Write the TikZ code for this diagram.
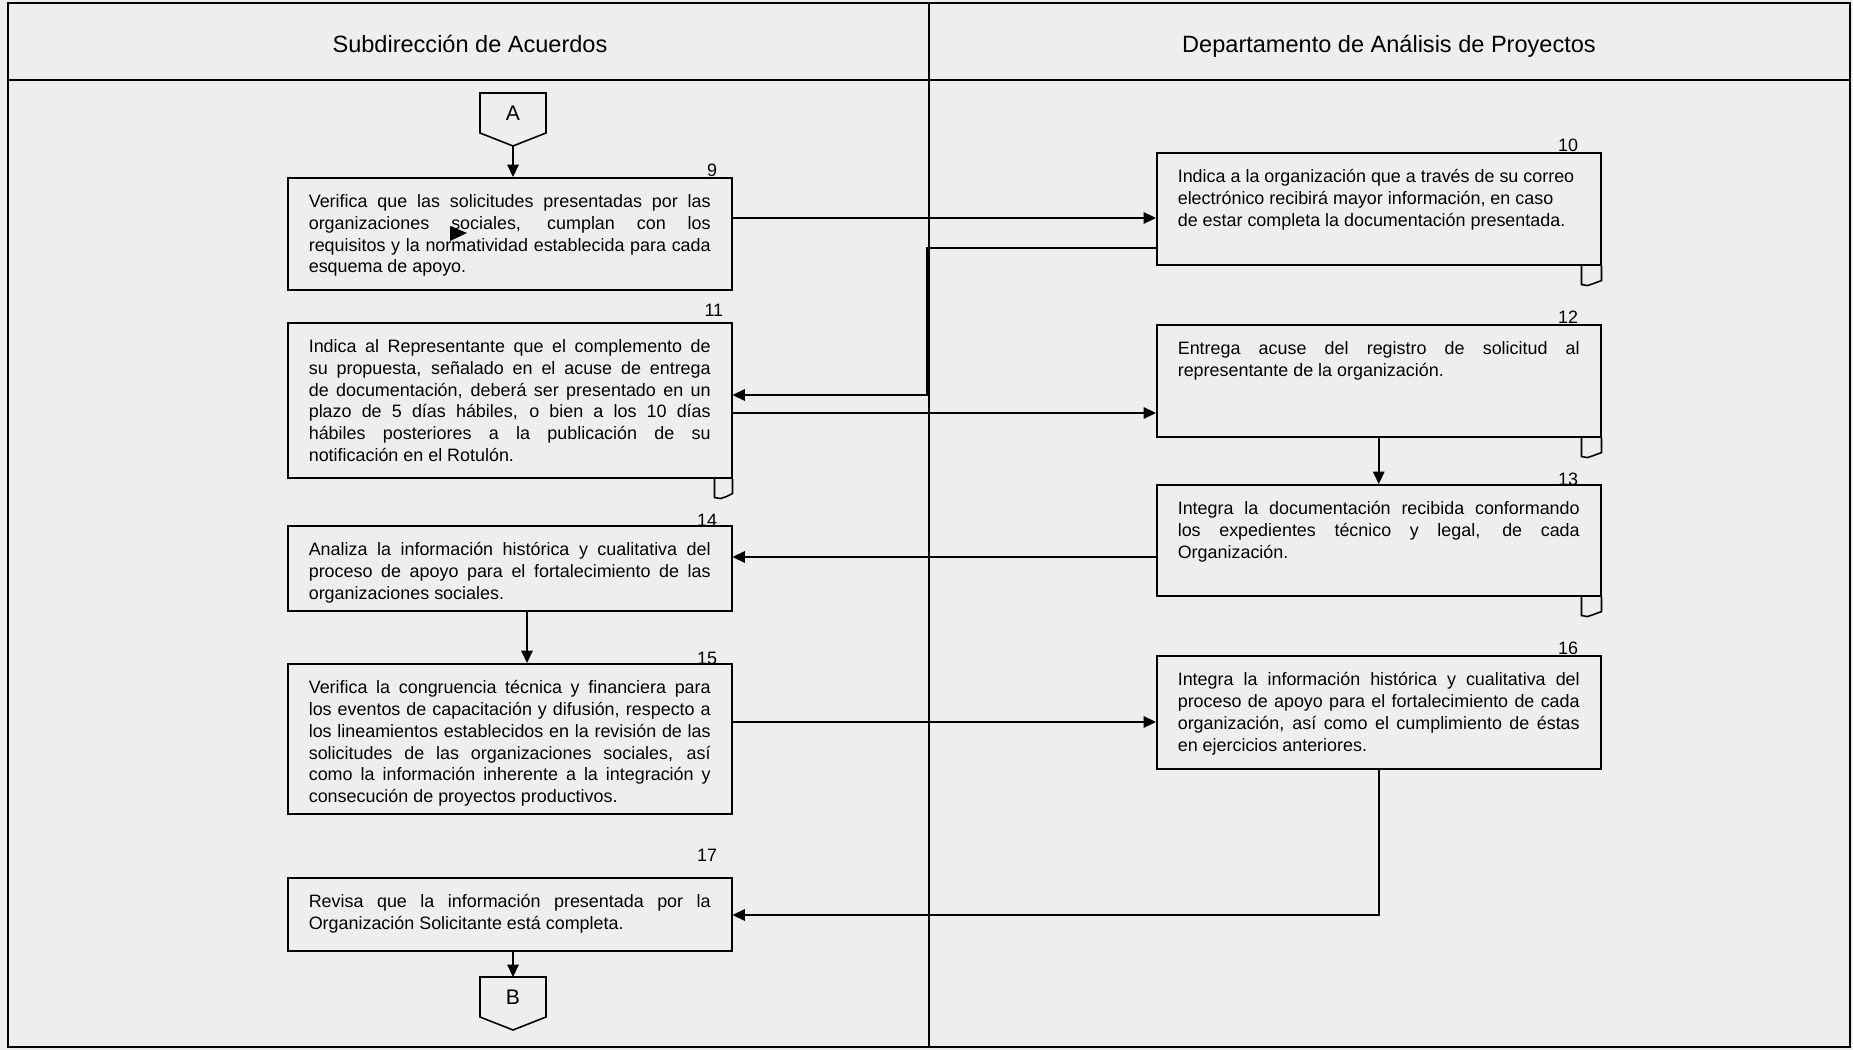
\documentclass[tikz,border=0pt]{standalone}
\usepackage{fontspec}
\setmainfont{Liberation Sans}
\usetikzlibrary{arrows.meta}

\definecolor{paper}{RGB}{238,238,240}
\newcommand{\stepfont}{\fontsize{10.2}{12.35}\selectfont}
\newcommand{\steptext}[2]{\parbox[t][#1][t]{8.04cm}{\vspace*{0.34cm}#2}}

\tikzset{
  stepbox/.style={draw, line width=0.9pt, anchor=north west, inner xsep=0.42cm, inner ysep=0pt, font=\stepfont},
  numlab/.style={anchor=south east, inner sep=0pt, font=\stepfont, xshift=-0.3cm},
  pageconn/.style={minimum width=1.32cm, minimum height=0.8cm, inner sep=0pt, outer sep=0pt, font=\fontsize{12}{14}\selectfont},
  conn/.style={line width=0.9pt, -{Triangle[length=7pt,width=6.5pt]}},
  lanetitle/.style={anchor=base, font=\fontsize{13.4}{15}\selectfont}
}

\begin{document}
\begin{tikzpicture}[x=0.02cm, y=-0.02cm]

\fill[paper] (0,0) rectangle (1853,1050);
\useasboundingbox (0,0) rectangle (1853,1050);

% frame and lanes
\draw[line width=1pt] (8,3) rectangle (1850,1047);
\draw[line width=1pt] (8,80) -- (1850,80);
\draw[line width=0.6pt] (929,3) -- (929,1047);

\node[lanetitle] (lane1) at (470,53) {Subdirección de Acuerdos};
\node[lanetitle] (lane2) at (1389,53) {Departamento de Análisis de Proyectos};

% off-page connectors
\node[pageconn] (A) at (513,113) {A};
\node[pageconn] (B) at (513,997) {B};
\foreach \c in {A,B}
\draw[line width=0.9pt] (\c.north west) -- (\c.north east) -- (\c.south east)
  -- ([yshift=-0.26cm]\c.south) -- (\c.south west) -- cycle;

% Subdireccion de Acuerdos
\node[stepbox, label={[numlab]north east:9}] (b9) at (287,177) {\steptext{2.24cm}{Verifica que las solicitudes presentadas por las\linebreak organizaciones sociales, cumplan con los\linebreak requisitos y la normatividad establecida para cada\linebreak esquema de apoyo.}};

\node[stepbox, label={[numlab, xshift=0.12cm, yshift=0.1cm]north east:11}] (b11) at (287,322) {\steptext{3.10cm}{Indica al Representante que el complemento de\linebreak su propuesta, señalado en el acuse de entrega\linebreak de documentación, deberá ser presentado en un\linebreak plazo de 5 días hábiles, o bien a los 10 días\linebreak hábiles posteriores a la publicación de su\linebreak notificación en el Rotulón.}};

\node[stepbox, label={[numlab, yshift=-0.04cm]north east:14}] (b14) at (287,525) {\steptext{1.70cm}{Analiza la información histórica y cualitativa del\linebreak proceso de apoyo para el fortalecimiento de las\linebreak organizaciones sociales.}};

\node[stepbox, label={[numlab, yshift=-0.04cm]north east:15}] (b15) at (287,663) {\steptext{3.00cm}{Verifica la congruencia técnica y financiera para\linebreak los eventos de capacitación y difusión, respecto a\linebreak los lineamientos establecidos en la revisión de las\linebreak solicitudes de las organizaciones sociales, así\linebreak como la información inherente a la integración y\linebreak consecución de proyectos productivos.}};

\node[stepbox, label={[numlab, yshift=0.3cm]north east:17}] (b17) at (287,877) {\steptext{1.46cm}{Revisa que la información presentada por la\linebreak Organización Solicitante está completa.}};

% Departamento de Analisis de Proyectos
\node[stepbox, label={[numlab, xshift=-0.16cm]north east:10}] (b10) at (1156,152) {\steptext{2.24cm}{\raggedright Indica a la organización que a través de su correo\\ electrónico recibirá mayor información, en caso\\ de estar completa la documentación presentada.}};

\node[stepbox, label={[numlab, xshift=-0.16cm]north east:12}] (b12) at (1156,324) {\steptext{2.24cm}{Entrega acuse del registro de solicitud al\linebreak representante de la organización.}};

\node[stepbox, label={[numlab, xshift=-0.16cm, yshift=-0.04cm]north east:13}] (b13) at (1156,484) {\steptext{2.22cm}{Integra la documentación recibida conformando\linebreak los expedientes técnico y legal, de cada\linebreak Organización.}};

\node[stepbox, label={[numlab, xshift=-0.16cm]north east:16}] (b16) at (1156,655) {\steptext{2.26cm}{Integra la información histórica y cualitativa del\linebreak proceso de apoyo para el fortalecimiento de cada\linebreak organización, así como el cumplimiento de éstas\linebreak en ejercicios anteriores.}};

% document tails
\foreach \n/\w in {b10/20,b11/18,b12/20,b13/20}
\draw[line width=0.9pt] (\n.south east) ++(-\w,0) -- ++(0,19) -- ++(6,1) -- ++(6,-2) -- ++(\w-12,-3) -- ++(0,-15);

% stray arrow head
\fill (450,226) -- (467,233) -- (450,241) -- cycle;

% flow
\draw[conn] ([yshift=-0.26cm]A.south) -- (b9.north -| A.south);
\draw[conn] (b9.east |- 0,218) -- (b10.west |- 0,218);
\draw[conn] (b10.west |- 0,248) -| (927,395) -- (b11.east |- 0,395);
\draw[conn] (b11.east |- 0,413) -- (b12.west |- 0,413);
\draw[conn] (b12) -- (b13);
\draw[conn] (b13.west |- 0,557) -- (b14.east |- 0,557);
\draw[conn] (b14.south -| 527,0) -- (b15.north -| 527,0);
\draw[conn] (b15.east |- 0,722) -- (b16.west |- 0,722);
\draw[conn] (b16.south) |- (b17.east |- 0,915);
\draw[conn] (b17.south -| B.north) -- (B.north);

\end{tikzpicture}
\end{document}
